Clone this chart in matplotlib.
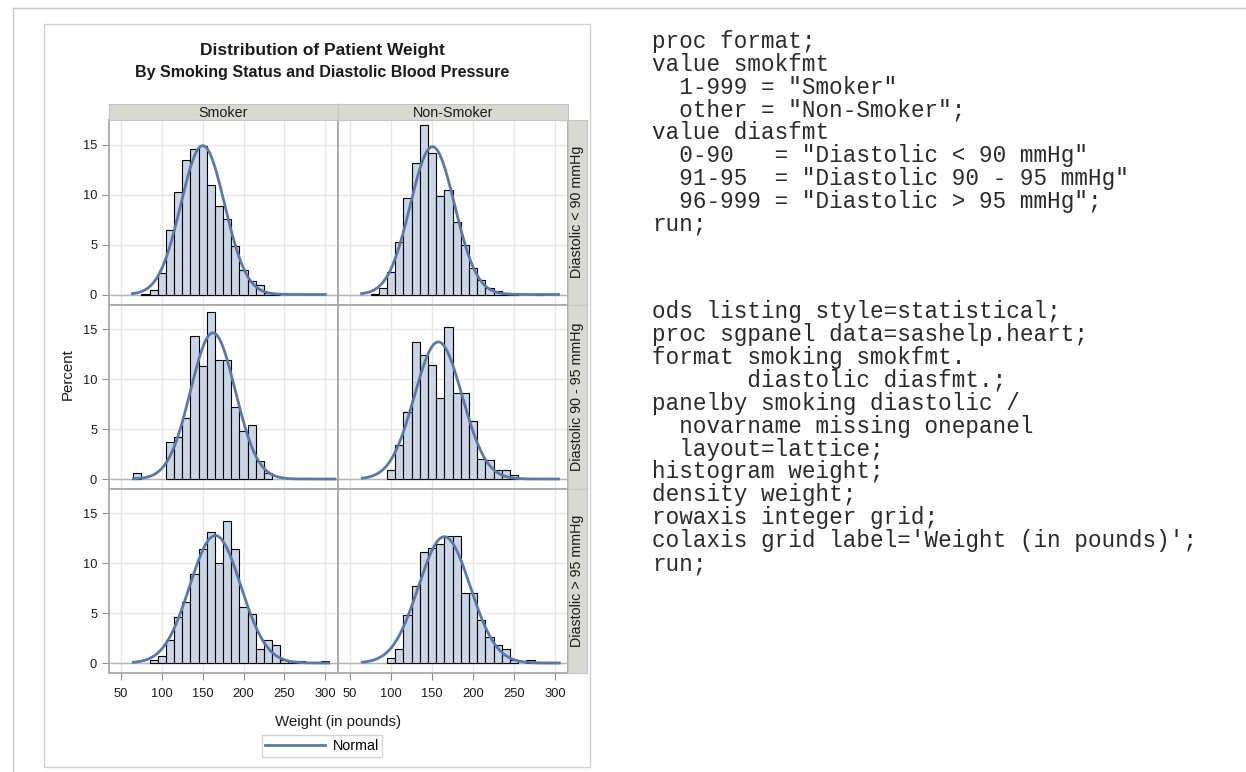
import numpy as np
import matplotlib
matplotlib.use("Agg")
import matplotlib.pyplot as plt
from matplotlib.lines import Line2D
from matplotlib.patches import Rectangle

plt.rcParams['font.family'] = ['Liberation Sans', 'DejaVu Sans']

# --- data ---
col_labels = ["Smoker", "Non-Smoker"]
row_labels = ["Diastolic < 90 mmHg", "Diastolic 90 - 95 mmHg", "Diastolic > 95 mmHg"]

bins = [70, 80, 90, 100, 110, 120, 130, 140, 150, 160, 170, 180,
        190, 200, 210, 220, 230, 240, 250, 260, 270, 280, 290, 300]

# percent per bin (10 lb wide), one list per panel
smk_lt90 = [0, 0.1, 0.5, 2.2, 6.5, 10.3, 13.5, 14.6, 14.9, 11.0, 8.9, 7.6,
            4.9, 2.5, 1.4, 1.0, 0.2, 0.1, 0, 0, 0, 0, 0, 0]
non_lt90 = [0, 0.1, 0.67, 2.3, 5.25, 9.7, 13.2, 17.0, 14.2, 9.9, 10.5, 7.3,
            5.0, 2.7, 1.45, 0.67, 0.33, 0.15, 0.1, 0, 0, 0.1, 0, 0]
smk_90_95 = [0.6, 0, 0, 0, 3.7, 4.2, 6.1, 14.3, 11.3, 16.7, 11.9, 11.9,
             7.2, 4.8, 5.4, 1.8, 0.6, 0, 0, 0, 0, 0, 0, 0]
non_90_95 = [0, 0, 0, 0.9, 3.4, 6.7, 13.7, 12.4, 11.4, 8.1, 15.2, 8.6,
             8.6, 5.8, 2.0, 1.9, 0.9, 0.9, 0.4, 0, 0, 0, 0, 0]
smk_gt95 = [0, 0, 0.27, 0.7, 2.3, 4.6, 6.1, 8.9, 11.4, 13.1, 10.0, 14.2,
            11.4, 5.6, 4.9, 1.4, 2.3, 1.8, 0.27, 0.2, 0.2, 0, 0, 0.2]
non_gt95 = [0, 0, 0, 0.54, 1.4, 4.8, 7.7, 11.1, 11.5, 11.9, 12.7, 12.7,
            7.0, 7.0, 4.3, 2.6, 1.8, 1.4, 0.27, 0, 0.3, 0.13, 0.13, 0.13]

# normal fit: mean, std dev, weight min, weight max
fit_smk_lt90 = (150.0, 26.8, 64, 300)
fit_non_lt90 = (150.4, 27.0, 64, 304)
fit_smk_90_95 = (162.5, 27.3, 65, 312)
fit_non_90_95 = (157.5, 29.1, 65, 304)
fit_smk_gt95 = (165.4, 31.2, 65, 304)
fit_non_gt95 = (164.9, 31.5, 65, 305)

panels = [
    [(smk_lt90, fit_smk_lt90), (non_lt90, fit_non_lt90)],
    [(smk_90_95, fit_smk_90_95), (non_90_95, fit_non_90_95)],
    [(smk_gt95, fit_smk_gt95), (non_gt95, fit_non_gt95)],
]

x_ticks = [50, 100, 150, 200, 250, 300]
y_ticks = [0, 5, 10, 15]

# SAS code shown next to the graph, two blocks
code_format = [
    'proc format;',
    'value smokfmt',
    '  1-999 = "Smoker"',
    '  other = "Non-Smoker";',
    'value diasfmt',
    '  0-90   = "Diastolic < 90 mmHg"',
    '  91-95  = "Diastolic 90 - 95 mmHg"',
    '  96-999 = "Diastolic > 95 mmHg";',
    'run;',
]
code_panel = [
    'ods listing style=statistical;',
    'proc sgpanel data=sashelp.heart;',
    'format smoking smokfmt.',
    '       diastolic diasfmt.;',
    'panelby smoking diastolic /',
    '  novarname missing onepanel',
    '  layout=lattice;',
    'histogram weight;',
    'density weight;',
    'rowaxis integer grid;',
    "colaxis grid label='Weight (in pounds)';",
    'run;',
]

# --- layout (pixels) ---
W, H = 1246, 772
bar_fill = '#CAD5E5'
fit_col = '#5A78A8'
frame_col = '#A8A8A8'
strip_col = '#D9D9D4'
text_col = '#1A1A1A'


def rect(x0, y0, x1, y1):
    return [x0 / W, 1 - y1 / H, (x1 - x0) / W, (y1 - y0) / H]


fig = plt.figure(figsize=(W / 100, H / 100), dpi=100)

# page lines and graph box
fig.add_artist(Line2D([13 / W, 13 / W], [0, 1 - 8 / H], color='#C8C8C8', lw=1))
fig.add_artist(Line2D([13 / W, 1], [1 - 8 / H, 1 - 8 / H], color='#C8C8C8', lw=1))
fig.add_artist(Rectangle((44 / W, 1 - 767 / H), (590 - 44) / W, (767 - 24) / H,
                         fill=False, edgecolor='#CFCFCF', lw=1, transform=fig.transFigure))

cols = [(109, 338), (338, 568)]
rows = [(120, 304.5), (304.5, 489), (489, 673)]

for r, (y0, y1) in enumerate(rows):
    for c, (x0, x1) in enumerate(cols):
        heights, fit = panels[r][c]
        ax = fig.add_axes(rect(x0, y0, x1, y1))
        ax.set_xlim(35.3, 315.6)
        ax.set_ylim(-1.0, 17.45)
        ax.set_xticks(x_ticks)
        ax.set_yticks(y_ticks)
        ax.grid(True, color='#E6E6E6', lw=1)
        ax.set_axisbelow(True)
        ax.axhline(0, color='#B4B4B4', lw=1, zorder=1)

        # histogram bars (skip empty bins)
        bx = [b for b, h in zip(bins, heights) if h > 0]
        bh = [h for h in heights if h > 0]
        ax.bar(bx, bh, width=10, color=bar_fill, edgecolor='black', lw=0.8, zorder=2)

        # normal density curve, scaled to percent per 10 lb bin
        mu, sd, lo, hi = fit
        xs = np.linspace(lo, hi, 300)
        ys = 1000 / (sd * np.sqrt(2 * np.pi)) * np.exp(-0.5 * ((xs - mu) / sd) ** 2)
        ax.plot(xs, ys, color=fit_col, lw=2, zorder=3)

        for s in ax.spines.values():
            s.set_color(frame_col)
            s.set_linewidth(1.3)
        ax.tick_params(colors='#8C8C8C', labelcolor=text_col, labelsize=9.3, length=5)
        if c == 0:
            ax.tick_params(axis='y', left=True, labelleft=True)
        else:
            ax.tick_params(axis='y', left=False, labelleft=False)
        if r == 2:
            ax.tick_params(axis='x', bottom=True, labelbottom=True, pad=6)
        else:
            ax.tick_params(axis='x', bottom=False, labelbottom=False)

# column headers
for c, (x0, x1) in enumerate(cols):
    hx = fig.add_axes(rect(x0, 104, x1, 120))
    hx.set_facecolor(strip_col)
    hx.set_xticks([])
    hx.set_yticks([])
    for s in hx.spines.values():
        s.set_color('#C4C4C0')
    hx.text(0.5, 0.45, col_labels[c], ha='center', va='center', fontsize=10.3,
            color=text_col, transform=hx.transAxes)

# row headers
for r, (y0, y1) in enumerate(rows):
    rx = fig.add_axes(rect(568, y0, 587, y1))
    rx.set_facecolor(strip_col)
    rx.set_xticks([])
    rx.set_yticks([])
    for s in rx.spines.values():
        s.set_color('#C4C4C0')
    rx.text(0.5, 0.5, row_labels[r], ha='center', va='center', rotation=90,
            fontsize=10.3, color=text_col, transform=rx.transAxes)

# titles and axis labels
fig.text(322 / W, 1 - 50 / H, "Distribution of Patient Weight", ha='center', va='center',
         fontsize=12.5, fontweight='bold', color=text_col)
fig.text(322 / W, 1 - 73 / H, "By Smoking Status and Diastolic Blood Pressure", ha='center',
         va='center', fontsize=11.5, fontweight='bold', color=text_col)
fig.text(68 / W, 1 - 374 / H, "Percent", rotation=90, ha='center', va='center',
         fontsize=10.8, color=text_col)
fig.text(338 / W, 1 - 722 / H, "Weight (in pounds)", ha='center', va='center',
         fontsize=10.8, color=text_col)

# legend
handle = Line2D([], [], color=fit_col, lw=2)
leg = fig.legend([handle], ["Normal"], loc='center', bbox_to_anchor=(322 / W, 1 - 746 / H),
                 frameon=True, fancybox=False, edgecolor='#C8C8C8', fontsize=10.3,
                 handlelength=4.2, borderpad=0.25, handletextpad=0.5, borderaxespad=0)
leg.get_frame().set_linewidth(1)

# SAS code on the right
for i, line in enumerate(code_format):
    fig.text(652 / W, 1 - (41.7 + i * 22.8) / H, line, ha='left', va='center',
             family='Liberation Mono', fontsize=16.3, color='#2A2A2A')
for i, line in enumerate(code_panel):
    fig.text(652 / W, 1 - (311.7 + i * 22.9) / H, line, ha='left', va='center',
             family='Liberation Mono', fontsize=16.3, color='#2A2A2A')

fig.savefig("out.png", dpi=100, facecolor='white')
